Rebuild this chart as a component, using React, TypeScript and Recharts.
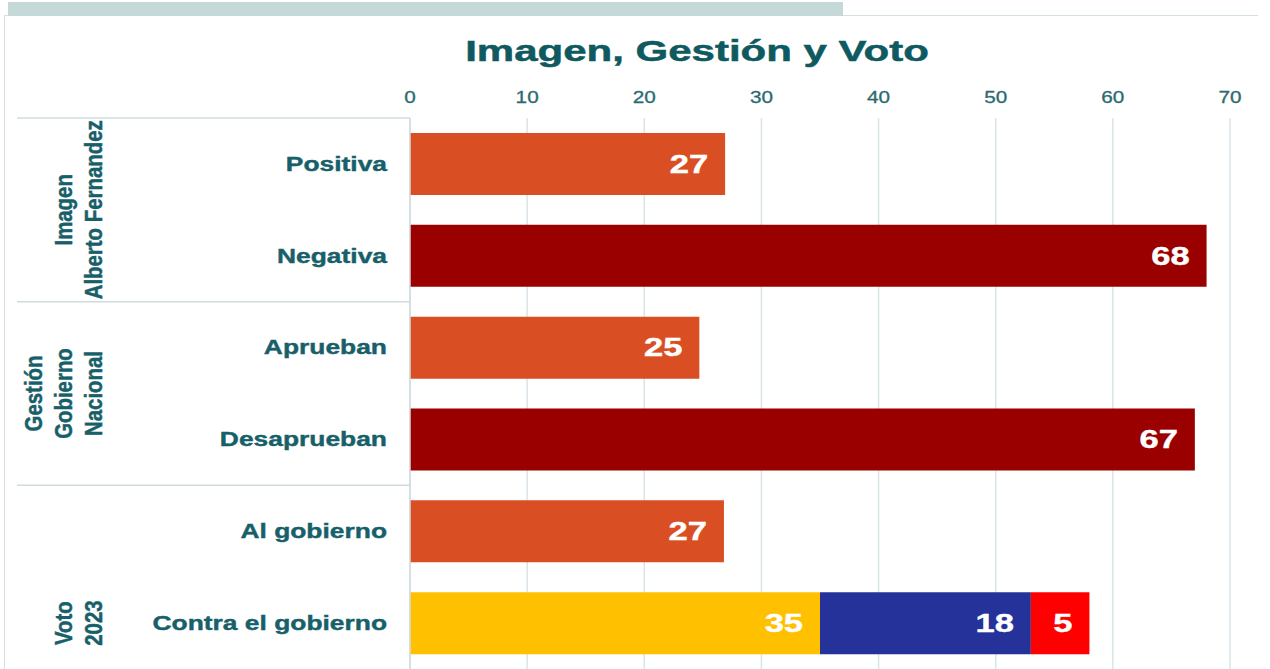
import { BarChart, Bar, XAxis, YAxis, CartesianGrid, Cell, LabelList } from 'recharts';

const categories = ['Positiva', 'Negativa', 'Aprueban', 'Desaprueban', 'Al gobierno', 'Contra el gobierno'];
const mainValues = [26.9, 68, 24.7, 67, 26.8, null];
const contraValues = { opo1: 35, opo2: 18, opo3: 5 };
const xTicks = [0, 10, 20, 30, 40, 50, 60, 70];

const groups = [
  { first: 0, count: 2, lines: ['Imagen', 'Alberto Fernandez'], align: 'center' },
  { first: 2, count: 2, lines: ['Gestión', 'Gobierno', 'Nacional'], align: 'center' },
  { first: 4, count: 2, lines: ['Voto', '2023'], align: 'last' },
];

const ORANGE = '#d94f23';
const DARK_RED = '#9a0000';
const rowColors = [ORANGE, DARK_RED, ORANGE, DARK_RED, ORANGE, ORANGE];
const segmentColors = { opo1: '#ffc000', opo2: '#24329a', opo3: '#ff0000' };

const TEAL = '#17606a';
const FONT = '"Liberation Sans", Arial, sans-serif';
const GRID = '#d9e4e7';

const W = 1270;
const H = 669;
const MARGIN = { top: 88, right: 40, bottom: 0, left: 0 };
const X_AXIS_H = 30;
const Y_AXIS_W = 410;
const Y_TICK_MARGIN = 23;

const data = categories.map((name, i) => ({
  name,
  main: mainValues[i] ?? 0,
  opo1: i === categories.length - 1 ? contraValues.opo1 : 0,
  opo2: i === categories.length - 1 ? contraValues.opo2 : 0,
  opo3: i === categories.length - 1 ? contraValues.opo3 : 0,
}));

const XTick = (props: any) => {
  const { x, y, payload } = props;
  return (
    <g transform={`translate(${x},${y}) scale(1.22,1)`}>
      <text x={0} y={0} textAnchor="middle" dominantBaseline="central" fill="#2c6a70" fontSize={17} fontFamily={FONT} stroke="#2c6a70" strokeWidth={0.3}>
        {payload.value}
      </text>
    </g>
  );
};

const YTick = (props: any) => {
  const { x, y, payload, index } = props;
  const plotH = H - MARGIN.top - MARGIN.bottom - X_AXIS_H;
  const band = typeof props.height === 'number' && props.visibleTicksCount
    ? props.height / props.visibleTicksCount
    : plotH / categories.length;
  const axisX = x + Y_TICK_MARGIN;
  const group = groups.find((g) => g.first === index);
  let groupEls = null;
  if (group) {
    const top = y - band / 2;
    const cy = group.align === 'center' ? top + (group.count * band) / 2 : top + (group.count - 0.5) * band;
    groupEls = (
      <g>
        <line x1={17} x2={axisX} y1={top} y2={top} stroke="#cfdcdf" strokeWidth={1.5} />
        {group.lines.map((line, j) => {
          const cx = 94 - (group.lines.length - 1 - j) * 30;
          return (
            <g key={line} transform={`translate(${cx},${cy}) rotate(-90) scale(1.02,1.2)`}>
              <text x={0} y={0} textAnchor="middle" dominantBaseline="central" fill={TEAL} fontSize={20} fontWeight="bold" fontFamily={FONT} stroke={TEAL} strokeWidth={0.4}>
                {line}
              </text>
            </g>
          );
        })}
      </g>
    );
  }
  return (
    <g>
      {groupEls}
      <g transform={`translate(${x},${y}) scale(1.32,1)`}>
        <text x={0} y={0} textAnchor="end" dominantBaseline="central" fill={TEAL} fontSize={20} fontWeight="bold" fontFamily={FONT} stroke={TEAL} strokeWidth={0.4}>
          {payload.value}
        </text>
      </g>
    </g>
  );
};

const ValueLabel = (props: any) => {
  const { x, y, width, height, value } = props;
  if (!value) return null;
  const tx = x + width - 17;
  const ty = y + height / 2;
  return (
    <g transform={`translate(${tx},${ty}) scale(1.38,1)`}>
      <text x={0} y={0} textAnchor="end" dominantBaseline="central" fill="#ffffff" fontSize={25} fontWeight="bold" fontFamily={FONT} stroke="#ffffff" strokeWidth={0.4}>
        {Math.round(value)}
      </text>
    </g>
  );
};

export default function App() {
  return (
    <div style={{ position: 'relative', width: W, height: H, overflow: 'hidden', background: '#fff' }}>
      <style>{'body{margin:0}'}</style>
      <div style={{ position: 'absolute', left: 4, top: 15, width: 1253, height: H, borderLeft: '1.5px solid #d5e0e2', borderTop: '1.5px solid #d5e0e2' }} />
      <div style={{ position: 'absolute', left: 8, top: 2, width: 835, height: 14, background: '#c6d9d9' }} />
      <div
        style={{
          position: 'absolute',
          left: 697,
          top: 33,
          transform: 'translateX(-50%) scaleX(1.4)',
          whiteSpace: 'nowrap',
          fontFamily: FONT,
          fontWeight: 'bold',
          fontSize: 30,
          lineHeight: '36px',
          color: '#0f5a60',
          WebkitTextStroke: '0.5px #0f5a60',
        }}
      >
        Imagen, Gestión y Voto
      </div>
      <div style={{ position: 'absolute', left: 0, top: 0 }}>
        <BarChart width={W} height={H} data={data} layout="vertical" margin={MARGIN} barSize={62}>
          <CartesianGrid horizontal={false} stroke={GRID} strokeWidth={1.5} />
          <XAxis
            type="number"
            orientation="top"
            domain={[0, 70]}
            ticks={xTicks}
            height={X_AXIS_H}
            axisLine={false}
            tickLine={false}
            tickSize={0}
            tickMargin={21}
            tick={(p: any) => <XTick {...p} />}
          />
          <YAxis
            type="category"
            dataKey="name"
            width={Y_AXIS_W}
            axisLine={{ stroke: '#cfdcdf', strokeWidth: 1.5 }}
            tickLine={false}
            tickSize={0}
            tickMargin={Y_TICK_MARGIN}
            interval={0}
            tick={(p: any) => <YTick {...p} />}
          />
          <Bar dataKey="main" stackId="s" isAnimationActive={false}>
            {data.map((d, i) => (
              <Cell key={d.name} fill={rowColors[i]} />
            ))}
            <LabelList dataKey="main" content={(p: any) => <ValueLabel {...p} />} />
          </Bar>
          <Bar dataKey="opo1" stackId="s" fill={segmentColors.opo1} isAnimationActive={false}>
            <LabelList dataKey="opo1" content={(p: any) => <ValueLabel {...p} />} />
          </Bar>
          <Bar dataKey="opo2" stackId="s" fill={segmentColors.opo2} isAnimationActive={false}>
            <LabelList dataKey="opo2" content={(p: any) => <ValueLabel {...p} />} />
          </Bar>
          <Bar dataKey="opo3" stackId="s" fill={segmentColors.opo3} isAnimationActive={false}>
            <LabelList dataKey="opo3" content={(p: any) => <ValueLabel {...p} />} />
          </Bar>
        </BarChart>
      </div>
    </div>
  );
}
